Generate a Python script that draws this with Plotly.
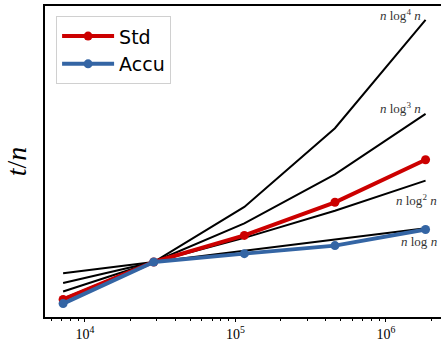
import numpy as np
import plotly.graph_objects as go

# data
n_vals = [7168, 28672, 114688, 458752, 1835008]
std_vals = [0.551, 1.0, 1.318, 1.715, 2.225]
accu_vals = [0.502, 1.0, 1.100, 1.196, 1.389]
powers = [1, 2, 3, 4]
ref_labels = ["<i>n</i> log <i>n</i>", "<i>n</i> log<sup>2</sup> <i>n</i>",
              "<i>n</i> log<sup>3</sup> <i>n</i>", "<i>n</i> log<sup>4</sup> <i>n</i>"]
x_tick_vals = [1e4, 1e5, 1e6]
x_tick_text = ["10<sup>4</sup>", "10<sup>5</sup>", "10<sup>6</sup>"]

RED = "#cc0000"
BLUE = "#3465a4"
SERIF = "Liberation Serif, DejaVu Serif, serif"

fig = go.Figure()

n_arr = np.array(n_vals, dtype=float)
ln0 = np.log(n_vals[1])
ref_series = {}
for k in powers:
    y = (np.log(n_arr) / ln0) ** k
    ref_series[k] = y
    fig.add_trace(go.Scatter(x=n_vals, y=y, mode="lines",
                             line=dict(color="black", width=2),
                             showlegend=False, hoverinfo="skip"))

fig.add_trace(go.Scatter(x=n_vals, y=std_vals, mode="lines+markers", name="Std",
                         line=dict(color=RED, width=4), marker=dict(size=9, color=RED)))
fig.add_trace(go.Scatter(x=n_vals, y=accu_vals, mode="lines+markers", name="Accu",
                         line=dict(color=BLUE, width=4), marker=dict(size=9, color=BLUE)))

# labels for reference curves
label_offsets = {1: (-7, -13), 2: (-9, -19), 3: (-25, 6), 4: (-25, 5)}
for k, lab in zip(powers, ref_labels):
    dx, dy = label_offsets[k]
    fig.add_annotation(x=np.log10(n_vals[-1]), y=ref_series[k][-1], xref="x", yref="y",
                       text=lab, showarrow=False, xanchor="center", yanchor="middle",
                       xshift=dx, yshift=dy,
                       font=dict(family=SERIF, size=13, color="#333333"))

minor_vals = []
for d in [3, 4, 5, 6]:
    for m in range(2, 10):
        v = m * 10 ** d
        if 5400 <= v <= 2.4e6:
            minor_vals.append(v)

fig.update_layout(
    width=441, height=341,
    margin=dict(l=45, r=0, t=6, b=24),
    paper_bgcolor="white", plot_bgcolor="white",
    showlegend=True,
    legend=dict(x=0.028, y=0.967, xanchor="left", yanchor="top",
                bgcolor="rgba(255,255,255,0.9)", bordercolor="#d0d0d0", borderwidth=1,
                font=dict(family="DejaVu Sans, sans-serif", size=19, color="black"),
                itemwidth=52, tracegroupgap=2),
    xaxis=dict(type="log", range=[3.735, 3.735 + 396 / 150.5], automargin=False,
               showline=True, linecolor="black", linewidth=1.5, mirror=True,
               showgrid=False, zeroline=False,
               tickmode="array", tickvals=x_tick_vals, ticktext=x_tick_text,
               ticks="outside", ticklen=3, tickwidth=1, tickcolor="black",
               ticklabelstandoff=0,
               tickfont=dict(family=SERIF, size=14, color="black"),
               minor=dict(tickmode="array", tickvals=minor_vals, ticks="outside",
                          ticklen=2, tickwidth=0.8, tickcolor="black", showgrid=False)),
    yaxis=dict(range=[0.341, 4.066], automargin=False,
               showline=True, linecolor="black", linewidth=1.5,
               mirror=False, showgrid=False, zeroline=False, showticklabels=False,
               ticks="",
               title=dict(text="<i>t</i>/<i>n</i>", standoff=8,
                          font=dict(family=SERIF, size=28, color="black"))),
)

fig.write_html("out.html")
